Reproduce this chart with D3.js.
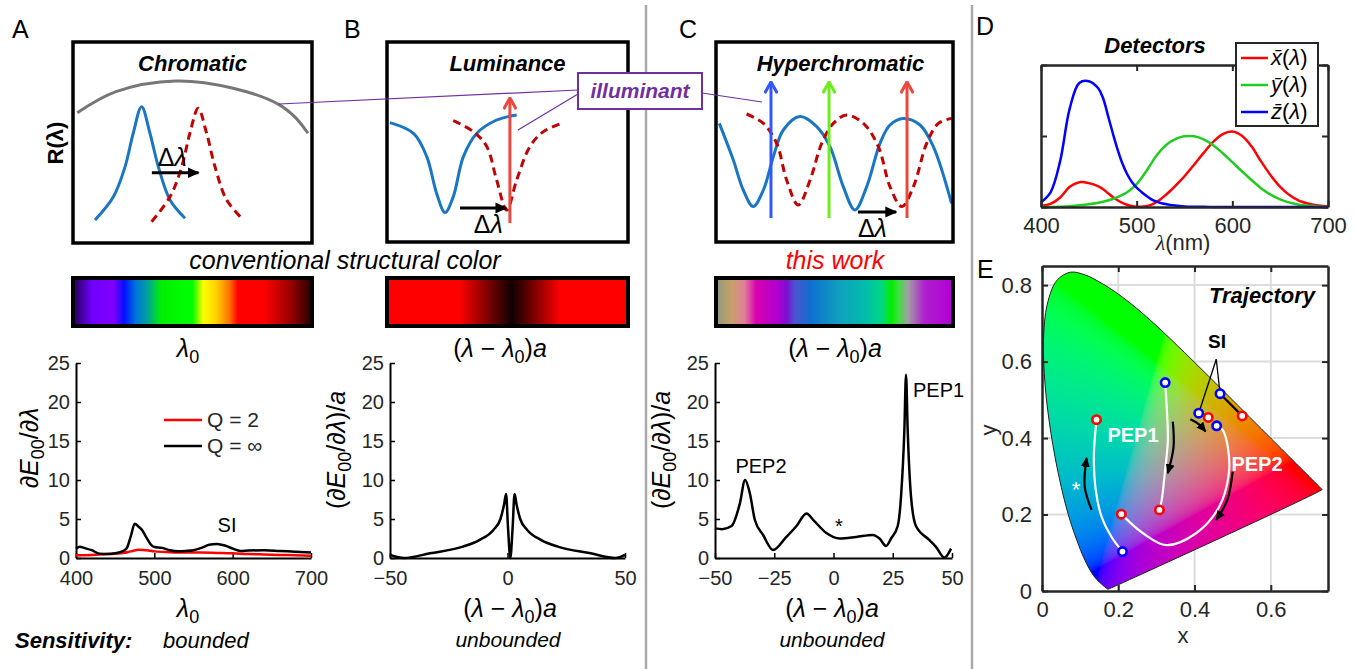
<!DOCTYPE html>
<html>
<head>
<meta charset="utf-8">
<script src="https://cdn.jsdelivr.net/npm/d3@7"></script>
<style>
  body { margin: 0; background: #fff; }
  svg text { font-family: "Liberation Sans", Arial, sans-serif; }
</style>
</head>
<body>
<svg id="fig" width="1355" height="669"></svg>
<script>
// ---------- data ----------
// CIE 1931 2deg colour matching functions (panel D and spectral locus in E)
var cmfWl = [380,390,400,410,420,430,440,450,460,465,470,475,480,485,490,495,500,505,510,515,520,525,530,535,540,545,550,560,570,580,590,600,610,620,630,640,650,660,670,680,690,700];
var cmfX = [0.001368,0.004243,0.01431,0.04351,0.13438,0.2839,0.34828,0.3362,0.2908,0.2511,0.19536,0.1421,0.09564,0.05795,0.03201,0.0147,0.0049,0.0024,0.0093,0.0291,0.06327,0.1096,0.1655,0.22575,0.2904,0.3597,0.43345,0.5945,0.7621,0.9163,1.0263,1.0622,1.0026,0.85445,0.6424,0.4479,0.2835,0.1649,0.0874,0.04677,0.0227,0.011359];
var cmfY = [0.000039,0.00012,0.000396,0.00121,0.004,0.0116,0.023,0.038,0.06,0.0739,0.09098,0.1126,0.13902,0.1693,0.20802,0.2586,0.323,0.4073,0.503,0.6082,0.71,0.7932,0.862,0.91485,0.954,0.9802,0.99495,0.995,0.952,0.87,0.757,0.631,0.503,0.381,0.265,0.175,0.107,0.061,0.032,0.017,0.00821,0.004102];
var cmfZ = [0.00645,0.02005,0.06785,0.2074,0.6456,1.3856,1.74706,1.77211,1.6692,1.5281,1.28764,1.0419,0.81295,0.6162,0.46518,0.3533,0.272,0.2123,0.1582,0.1117,0.07825,0.05725,0.04216,0.02984,0.0203,0.0134,0.00875,0.0039,0.0021,0.00165,0.0011,0.0008,0.00034,0.00019,0.00005,0.00002,0,0,0,0,0,0];

// schematic reflectance curves, [position, reflectance] in box units (0-100)
var chromIllum = [[1.8,64.8],[18,75.3],[43,80.6],[67,77],[86,69],[93,62.5],[98.3,54.6]];
var chromBlue = [[9.2,11.4],[16.9,23],[21.8,38],[25.2,54.6],[28.7,67.8],[32.2,54.6],[35.7,38],[40.6,21.4],[46.9,12.3]];
var chromRed = [[32.9,10.6],[40.6,23],[45.5,38],[48.9,54.6],[52.4,67],[55.9,54.6],[59.4,38],[64.3,21.4],[71,11.8]];
var lumBlue = [[1.2,59.7],[11,54.3],[16.5,42.7],[20.6,24.3],[24.1,14.7],[27.5,22.7],[31.7,42.7],[37.2,54.3],[45.5,61],[53.8,63.5]];
var lumRed = [[27.5,60.7],[35.8,55.2],[41.4,47.7],[45.5,31],[49.7,16],[53.8,31],[59.3,47.7],[64.9,55.2],[72.5,59.3]];
var hypBlue = [[1.4,59.3],[7.3,41],[11.5,26],[15.7,17.7],[20,26],[24.2,42.7],[28.4,56],[35.4,62.7],[42.5,57.7],[48.1,47.7],[53.7,27.7],[58.6,16],[63.6,27.7],[69.2,49.3],[73.4,58.5],[79,61.8],[86.1,58.5],[91.7,47.7],[99.4,19.3]];
var hypRed = [[12.9,64],[20,59.3],[25.6,49.3],[29.8,31],[34.7,18.5],[39.7,31],[44.6,49.3],[49.5,59.3],[55.1,63.5],[62.2,59.3],[68.5,47.7],[73.4,27.7],[78.4,17.7],[83.3,27.7],[88.9,49.3],[93.8,59.3],[99.4,61.8]];
var lumLaser = [51];
var hypLasers = [23.2, 47.7, 80.6];
var hypLaserColors = ["#3158ff", "#6fec1c", "#ea4a3d"];

// colour bars
var specStops = [[0,"#200050"],[0.08,"#7000ff"],[0.17,"#8000ff"],[0.215,"#0010ff"],[0.26,"#0070e0"],[0.31,"#00a0a0"],[0.37,"#00f000"],[0.5,"#00ff00"],[0.545,"#ffff00"],[0.6,"#ffd000"],[0.655,"#ff7000"],[0.69,"#ff0000"],[0.8,"#ff0000"],[0.92,"#900000"],[1,"#200000"]];
var lumStops = [[0,"#ff0000"],[0.3,"#ff0000"],[0.52,"#100000"],[0.72,"#ff0000"],[1,"#ff0000"]];
var hypStops = [[0,"#8a9a80"],[0.064,"#c8a068"],[0.12,"#e08098"],[0.17,"#d800b0"],[0.26,"#b000d0"],[0.3,"#7a10d0"],[0.33,"#5050d0"],[0.4,"#1070d0"],[0.52,"#10a0c0"],[0.64,"#00c0a8"],[0.7,"#00d880"],[0.74,"#00ee00"],[0.77,"#40e040"],[0.81,"#a0a0a0"],[0.88,"#b020d0"],[1,"#b000d0"]];

// sensitivity curves
var lam0 = [400,405,410,420,430,440,450,460,465,470,475,480,485,490,495,500,510,520,530,540,550,560,570,580,590,600,610,620,640,660,680,700];
var sensInf = [1.2,1.45,1.3,1.0,0.55,0.5,0.6,0.9,1.3,2.8,4.4,4.0,3.5,2.6,1.8,1.4,1.3,1.0,0.85,0.9,1.0,1.3,1.7,1.8,1.6,1.2,0.9,0.95,1.0,0.9,0.8,0.7];
var lamQ2 = [400,420,440,460,470,480,490,500,520,540,560,580,600,620,640,660,680,700];
var sensQ2 = [0.35,0.4,0.5,0.65,0.85,1.05,1.0,0.85,0.75,0.7,0.7,0.65,0.6,0.5,0.45,0.4,0.35,0.3];
var lumDx = [-50,-44,-33,-19,-12,-6,-3,-1.5,-0.6,0.2,1.2,2.2,3.0,3.9,5.4,8.4,14.4,21.4,35.4,46,50];
var lumSens = [0.4,0,0.6,1.45,2.3,3.6,5.0,6.8,8.2,4,0,4,8.2,6.8,5.0,3.6,2.3,1.45,0.6,0,0.4];
var hypDx = [-50,-47,-43,-39.5,-37.3,-35.3,-33.2,-29.7,-25.5,-19.9,-15.6,-11.4,-8.6,-3,2.6,9.6,16.6,19.4,22.2,24.3,27.1,28.5,29.9,30.6,31.3,32.7,34.8,40.5,43.3,46.8,49.6];
var hypSens = [3.8,3.7,4.1,7.0,10.0,8.3,4.9,2.95,1.03,2.7,4.1,5.7,4.9,3.2,2.5,2.7,2.95,2.5,1.54,2.5,4.1,7.9,16.4,23.5,16.4,7.9,4.1,2.3,1.4,0.05,1.2];

// chromaticity trajectories (x, y)
var trajStar = [[0.143,0.448],[0.136,0.352],[0.141,0.264],[0.156,0.195],[0.182,0.142],[0.211,0.103]];
var trajPep1 = [[0.323,0.545],[0.327,0.482],[0.330,0.395],[0.322,0.308],[0.314,0.238],[0.308,0.212]];
var trajPep2 = [[0.208,0.201],[0.265,0.151],[0.326,0.120],[0.404,0.151],[0.465,0.221],[0.490,0.308],[0.487,0.378],[0.474,0.421],[0.458,0.432]];
var trajSi1 = [[0.411,0.465],[0.436,0.454]];
var trajSi2 = [[0.467,0.516],[0.525,0.458]];
var arrStar = [[0.130,0.212],[0.112,0.273],[0.117,0.348]];
var arrPep1 = [[0.343,0.443],[0.345,0.377],[0.330,0.308]];
var arrSi = [[0.389,0.449],[0.410,0.437],[0.429,0.417]];
var arrPep2 = [[0.500,0.312],[0.486,0.238],[0.457,0.186]];
var siLabel = [0.457, 0.627];

// ---------- drawing ----------
var svg = d3.select("#fig");
svg.append("rect").attr("width", 1355).attr("height", 669).attr("fill", "#fff");
var defs = svg.append("defs");
var INK = "#262626";

function head(id, color, open, size) {
  var m = defs.append("marker").attr("id", id)
    .attr("viewBox", "0 -5 10 10").attr("refX", 9).attr("refY", 0)
    .attr("markerWidth", size).attr("markerHeight", size)
    .attr("markerUnits", "userSpaceOnUse").attr("orient", "auto");
  if (open) m.append("path").attr("d", "M1,-4.5L9,0L1,4.5").attr("fill", "none")
    .attr("stroke", color).attr("stroke-width", 2.2);
  else m.append("path").attr("d", "M0,-4.5L10,0L0,4.5Z").attr("fill", color);
}
head("hk", "#000", false, 12);
head("hk2", "#000", false, 10);
hypLaserColors.forEach(function(c, i) { head("hl" + i, c, true, 14); });

function gradient(id, stops) {
  var g = defs.append("linearGradient").attr("id", id);
  stops.forEach(function(s) { g.append("stop").attr("offset", s[0]).attr("stop-color", s[1]); });
}
gradient("gSpec", specStops);
gradient("gLum", lumStops);
gradient("gHyp", hypStops);

// math text with italic / subscript parts: 0 upright, 1 italic, 2 subscript
function math(t, parts, size) {
  var inSub = false;
  parts.forEach(function(p) {
    var ts = t.append("tspan").text(p[0]);
    if (p[1] === 1) ts.attr("font-style", "italic");
    if (p[1] === 2) { ts.attr("font-size", size * 0.72).attr("dy", size * 0.22); inSub = true; }
    else if (inSub) { ts.attr("dy", -size * 0.22); inSub = false; }
  });
}
function mathText(x, y, parts, size, rot) {
  var t = svg.append("text").attr("font-family", "'Liberation Serif', serif")
    .attr("font-size", size).attr("fill", "#000").attr("text-anchor", "middle");
  if (rot) t.attr("transform", "translate(" + x + "," + y + ") rotate(-90)");
  else t.attr("x", x).attr("y", y);
  math(t, parts, size);
  return t;
}
function label(x, y, txt, size, opts) {
  opts = opts || {};
  return svg.append("text").attr("x", x).attr("y", y).text(txt)
    .attr("font-size", size).attr("fill", opts.fill || "#000")
    .attr("font-weight", opts.bold ? "bold" : null)
    .attr("font-style", opts.italic ? "italic" : null)
    .attr("font-family", opts.family || null)
    .attr("text-anchor", opts.anchor || "start");
}

// separators
[646, 972].forEach(function(x) {
  svg.append("line").attr("x1", x).attr("x2", x).attr("y1", 5).attr("y2", 669)
    .attr("stroke", "#aaa").attr("stroke-width", 2.5);
});

// panel letters
label(12, 38, "A", 25);
label(344, 38, "B", 25);
label(679, 38, "C", 25);
label(976, 35, "D", 25);
label(977, 278, "E", 25);

// schematic boxes
var curveLine = function(sx, sy) {
  return d3.line().x(function(d) { return sx(d[0]); }).y(function(d) { return sy(d[1]); })
    .curve(d3.curveCatmullRom.alpha(0.5));
};
function schematic(b, title) {
  var sx = d3.scaleLinear().domain([0, 100]).range([b[0], b[2]]);
  var sy = d3.scaleLinear().domain([0, 100]).range([b[3], b[1]]);
  var g = svg.append("g");
  g.append("rect").attr("x", b[0]).attr("y", b[1]).attr("width", b[2] - b[0]).attr("height", b[3] - b[1])
    .attr("fill", "#fff");
  g.append("text").attr("x", (b[0] + b[2]) / 2 + (title == "Hyperchromatic" ? 6 : 0)).attr("y", 71)
    .attr("text-anchor", "middle").attr("font-size", 22).attr("font-weight", "bold").attr("font-style", "italic")
    .text(title);
  return { sx: sx, sy: sy, g: g, line: curveLine(sx, sy), b: b };
}
function frame(s) {
  var b = s.b;
  svg.append("rect").attr("x", b[0]).attr("y", b[1]).attr("width", b[2] - b[0]).attr("height", b[3] - b[1])
    .attr("fill", "none").attr("stroke", "#000").attr("stroke-width", 3.5);
}
function solid(s, data, color) {
  s.g.append("path").datum(data).attr("d", s.line).attr("fill", "none").attr("stroke", color).attr("stroke-width", 3);
}
function dashed(s, data) {
  s.g.append("path").datum(data).attr("d", s.line).attr("fill", "none").attr("stroke", "#c00000")
    .attr("stroke-width", 3).attr("stroke-dasharray", "8,5");
}
function shiftArrow(s, u0, u1, v, tu, tv) {
  s.g.append("line").attr("x1", s.sx(u0)).attr("x2", s.sx(u1)).attr("y1", s.sy(v)).attr("y2", s.sy(v))
    .attr("stroke", "#000").attr("stroke-width", 3).attr("marker-end", "url(#hk)");
  var t = s.g.append("text").attr("x", s.sx(tu)).attr("y", s.sy(tv)).attr("text-anchor", "middle")
    .attr("font-family", "'Liberation Serif', serif").attr("font-size", 25);
  math(t, [["Δ", 0], ["λ", 1]], 25);
}

// A: chromatic
var sA = schematic([73, 42, 312, 243], "Chromatic");
solid(sA, chromIllum, "#777");
solid(sA, chromBlue, "#1a76c2");
dashed(sA, chromRed);
shiftArrow(sA, 33, 52.5, 35, 41.5, 38.5);
frame(sA);

// B: luminance
var sB = schematic([387, 42, 628, 242], "Luminance");
solid(sB, lumBlue, "#1a76c2");
dashed(sB, lumRed);
lumLaser.forEach(function(u) {
  sB.g.append("line").attr("x1", sB.sx(u)).attr("x2", sB.sx(u)).attr("y1", sB.sy(9.5)).attr("y2", sB.sy(72))
    .attr("stroke", hypLaserColors[2]).attr("stroke-width", 3).attr("marker-end", "url(#hl2)");
});
shiftArrow(sB, 30.3, 49.5, 17, 42, 4.5);
frame(sB);

// C: hyperchromatic
var sC = schematic([716, 42, 953, 242], "Hyperchromatic");
solid(sC, hypBlue, "#1a76c2");
dashed(sC, hypRed);
hypLasers.forEach(function(u, i) {
  sC.g.append("line").attr("x1", sC.sx(u)).attr("x2", sC.sx(u)).attr("y1", sC.sy(12)).attr("y2", sC.sy(80))
    .attr("stroke", hypLaserColors[i]).attr("stroke-width", 3).attr("marker-end", "url(#hl" + i + ")");
});
shiftArrow(sC, 59.9, 76, 15, 66, 2.5);
frame(sC);

// R(lambda) label
svg.append("text").attr("transform", "translate(63,143) rotate(-90)").attr("text-anchor", "middle")
  .attr("font-size", 22).attr("font-weight", "bold").text("R(λ)");

// illuminant callout
var purple = "#7030a0";
[[279, 104, 578, 90], [578, 94, 518, 130], [702, 93, 762, 102]].forEach(function(l) {
  svg.append("line").attr("x1", l[0]).attr("y1", l[1]).attr("x2", l[2]).attr("y2", l[3])
    .attr("stroke", purple).attr("stroke-width", 1.2);
});
svg.append("rect").attr("x", 578).attr("y", 73).attr("width", 124).attr("height", 36)
  .attr("fill", "#fff").attr("stroke", purple).attr("stroke-width", 2);
label(640, 98, "illuminant", 21, { bold: true, italic: true, anchor: "middle", fill: purple });

// colour bars
label(345, 269, "conventional structural color", 25, { italic: true, anchor: "middle" });
label(835, 269, "this work", 25, { italic: true, anchor: "middle", fill: "#ff0000" });
[[73, 312, "gSpec"], [387, 628, "gLum"], [716, 953, "gHyp"]].forEach(function(c) {
  svg.append("rect").attr("x", c[0]).attr("y", 278).attr("width", c[1] - c[0]).attr("height", 48)
    .attr("fill", "url(#" + c[2] + ")").attr("stroke", "#000").attr("stroke-width", 4);
});
var shiftParts = [["(", 0], ["λ", 1], [" − ", 0], ["λ", 1], ["0", 2], [")", 0], ["a", 1]];
mathText(188, 357, [["λ", 1], ["0", 2]], 25);
mathText(500, 357, shiftParts, 25);
mathText(835, 357, shiftParts, 25);

// ---------- sensitivity plots ----------
var ySens = d3.scaleLinear().domain([0, 25]).range([558, 363]);
function sensPlot(x, xTicks) {
  var g = svg.append("g");
  var ax = g.append("g").attr("transform", "translate(0,558)")
    .call(d3.axisBottom(x).tickValues(xTicks).tickSizeInner(-5).tickSizeOuter(0).tickPadding(13));
  var ay = g.append("g").attr("transform", "translate(" + x.range()[0] + ",0)")
    .call(d3.axisLeft(ySens).tickValues([0, 5, 10, 15, 20, 25]).tickSizeInner(-5).tickSizeOuter(0).tickPadding(6));
  [ax, ay].forEach(function(a) {
    a.select(".domain").attr("stroke", "#000").attr("stroke-width", 2);
    a.selectAll(".tick line").attr("stroke", "#000").attr("stroke-width", 1.5);
    a.selectAll(".tick text").attr("font-size", 20).attr("fill", INK)
      .attr("font-family", "'Liberation Sans', Arial, sans-serif");
  });
  return g;
}
function sensLine(g, x, xs, ys, color) {
  var line = d3.line().x(function(d, i) { return x(xs[i]); }).y(function(d) { return ySens(d); })
    .curve(d3.curveMonotoneX);
  g.append("path").datum(ys).attr("d", line).attr("fill", "none").attr("stroke", color)
    .attr("stroke-width", 2.5).attr("stroke-linejoin", "round");
}

// A
var xA = d3.scaleLinear().domain([400, 700]).range([76, 311]);
var gA = sensPlot(xA, [400, 500, 600, 700]);
sensLine(gA, xA, lamQ2, sensQ2, "#ff0000");
sensLine(gA, xA, lam0, sensInf, "#000");
[["#ff0000", 420, "Q = 2"], ["#000", 446, "Q = ∞"]].forEach(function(l) {
  gA.append("line").attr("x1", 164).attr("x2", 202).attr("y1", l[1]).attr("y2", l[1])
    .attr("stroke", l[0]).attr("stroke-width", 2.5);
  label(207, l[1] + 7, l[2], 21, { fill: INK });
});
label(227, 532, "SI", 20, { anchor: "middle", family: "'Open Sans', sans-serif" });
mathText(188, 617, [["λ", 1], ["0", 2]], 25);
mathText(38, 448, [["∂", 0], ["E", 1], ["00", 2], ["/∂", 0], ["λ", 1]], 25, true);
label(15, 648, "Sensitivity:", 22, { bold: true, italic: true });
label(163, 648, "bounded", 22, { italic: true });

// B
var xB = d3.scaleLinear().domain([-50, 50]).range([390, 625]);
var gB = sensPlot(xB, [-50, 0, 50]);
sensLine(gB, xB, lumDx, lumSens, "#000");
mathText(510, 617, shiftParts, 25);
mathText(345, 450, [["(∂", 0], ["E", 1], ["00", 2], ["/∂", 0], ["λ", 1], [")/", 0], ["a", 1]], 25, true);
label(508, 647, "unbounded", 21, { italic: true, anchor: "middle" });

// C
var xC = d3.scaleLinear().domain([-50, 50]).range([715, 952]);
var gC = sensPlot(xC, [-50, -25, 0, 25, 50]);
sensLine(gC, xC, hypDx, hypSens, "#000");
mathText(832, 617, shiftParts, 25);
mathText(670, 450, [["(∂", 0], ["E", 1], ["00", 2], ["/∂", 0], ["λ", 1], [")/", 0], ["a", 1]], 25, true);
label(832, 647, "unbounded", 21, { italic: true, anchor: "middle" });
label(761, 473, "PEP2", 20, { anchor: "middle", family: "'Open Sans', sans-serif" });
label(913, 397, "PEP1", 20, { family: "'Open Sans', sans-serif" });
label(839, 533, "*", 20, { anchor: "middle", family: "'Open Sans', sans-serif" });

// ---------- D: detectors ----------
var xD = d3.scaleLinear().domain([400, 700]).range([1041, 1328]);
var yD = d3.scaleLinear().domain([0, 2]).range([207, 65]);
var gD = svg.append("g");
function boxAxes(g, x, y, xt, yt, xfmt, yfmt) {
  var x0 = x.range()[0], x1 = x.range()[1], y0 = y.range()[0], y1 = y.range()[1];
  var axes = [
    [d3.axisBottom(x).tickValues(xt).tickFormat(xfmt), "translate(0," + y0 + ")"],
    [d3.axisTop(x).tickValues(xt).tickFormat(""), "translate(0," + y1 + ")"],
    [d3.axisLeft(y).tickValues(yt).tickFormat(yfmt), "translate(" + x0 + ",0)"],
    [d3.axisRight(y).tickValues(yt).tickFormat(""), "translate(" + x1 + ",0)"]
  ];
  axes.forEach(function(d) {
    var a = g.append("g").attr("transform", d[1]).call(d[0].tickSizeInner(-6).tickSizeOuter(0).tickPadding(10));
    a.select(".domain").attr("stroke", INK).attr("stroke-width", 2.5);
    a.selectAll(".tick line").attr("stroke", INK).attr("stroke-width", 2);
    a.selectAll(".tick text").attr("font-size", 22).attr("fill", INK)
      .attr("font-family", "'Liberation Sans', Arial, sans-serif");
  });
}
var dIdx = cmfWl.map(function(w, i) { return i; }).filter(function(i) { return cmfWl[i] >= 400; });
[[cmfX, "#ff0000"], [cmfY, "#22cc22"], [cmfZ, "#0000ff"]].forEach(function(s) {
  var line = d3.line().x(function(i) { return xD(cmfWl[i]); }).y(function(i) { return yD(s[0][i]); })
    .curve(d3.curveCatmullRom.alpha(0.5));
  gD.append("path").datum(dIdx).attr("d", line).attr("fill", "none").attr("stroke", s[1]).attr("stroke-width", 2.5);
});
boxAxes(gD, xD, yD, [400, 500, 600, 700], [0, 1, 2], d3.format("d"), "");
label(1155, 53, "Detectors", 22, { bold: true, italic: true, anchor: "middle" });
// legend
gD.append("rect").attr("x", 1236).attr("y", 43).attr("width", 82).attr("height", 83)
  .attr("fill", "#fff").attr("stroke", INK).attr("stroke-width", 2);
[["x\u0304", "#ff0000", 58], ["y\u0304", "#22cc22", 85], ["z\u0304", "#0000ff", 112]].forEach(function(l) {
  gD.append("line").attr("x1", 1241).attr("x2", 1268).attr("y1", l[2]).attr("y2", l[2])
    .attr("stroke", l[1]).attr("stroke-width", 2.5);
  var t = gD.append("text").attr("x", 1271).attr("y", l[2] + 7).attr("font-size", 22)
    .attr("font-family", "'Liberation Serif', serif");
  math(t, [[l[0], 1], ["(", 0], ["λ", 1], [")", 0]], 22);
});
var tl = svg.append("text").attr("x", 1183).attr("y", 250).attr("text-anchor", "middle").attr("font-size", 22).attr("fill", INK);
tl.append("tspan").attr("font-family", "'Liberation Serif', serif").attr("font-style", "italic").text("λ");
tl.append("tspan").text("(nm)");

// ---------- E: chromaticity ----------
var xE = d3.scaleLinear().domain([0, 0.75]).range([1042, 1328]);
var yE = d3.scaleLinear().domain([0, 0.85]).range([591, 266]);
var gE = svg.append("g");
// grid
[0.2, 0.4, 0.6].forEach(function(v) {
  gE.append("line").attr("x1", xE(v)).attr("x2", xE(v)).attr("y1", 266).attr("y2", 591)
    .attr("stroke", "#dcdcdc").attr("stroke-width", 2);
});
[0.2, 0.4, 0.6, 0.8].forEach(function(v) {
  gE.append("line").attr("y1", yE(v)).attr("y2", yE(v)).attr("x1", 1042).attr("x2", 1328)
    .attr("stroke", "#dcdcdc").attr("stroke-width", 2);
});
// spectral locus
var locus = cmfWl.map(function(w, i) {
  var s = cmfX[i] + cmfY[i] + cmfZ[i];
  return [cmfX[i] / s, cmfY[i] / s];
});
var locusLine = d3.line().x(function(d) { return xE(d[0]); }).y(function(d) { return yE(d[1]); })
  .curve(d3.curveCatmullRomClosed.alpha(0.5));
defs.append("clipPath").attr("id", "locusClip").append("path").datum(locus).attr("d", locusLine);

// colour fill (xy -> linear sRGB, normalised by channel sum)
var pw = 286, ph = 325;
var cv = document.createElement("canvas");
cv.width = pw; cv.height = ph;
var ctx = cv.getContext("2d");
var img = ctx.createImageData(pw, ph);
function gam(v) { v = Math.min(1, v); return v <= 0.0031308 ? 12.92 * v : 1.055 * Math.pow(v, 1 / 2.4) - 0.055; }
for (var j = 0; j < ph; j++) {
  for (var i = 0; i < pw; i++) {
    var cx = xE.invert(1042 + i + 0.5), cy = yE.invert(266 + j + 0.5);
    var X = cx, Y = cy, Z = 1 - cx - cy;
    var r = Math.max(0, 3.2406 * X - 1.5372 * Y - 0.4986 * Z);
    var g = Math.max(0, -0.9689 * X + 1.8758 * Y + 0.0415 * Z);
    var b = Math.max(0, 0.0557 * X - 0.2040 * Y + 1.0570 * Z);
    var m = Math.max(r, g, b, 1e-6), s = r + g + b;
    var k = 1.08 / Math.max(s / m, 1e-6);
    r = r / m * k; g = g / m * k; b = b / m * k;
    var p = (j * pw + i) * 4;
    img.data[p] = 255 * gam(r);
    img.data[p + 1] = 255 * gam(g);
    img.data[p + 2] = 255 * gam(b);
    img.data[p + 3] = 255;
  }
}
ctx.putImageData(img, 0, 0);
gE.append("image").attr("x", 1042).attr("y", 266).attr("width", pw).attr("height", ph)
  .attr("href", cv.toDataURL()).attr("clip-path", "url(#locusClip)").attr("preserveAspectRatio", "none");
gE.append("path").datum(locus).attr("d", locusLine).attr("fill", "none").attr("stroke", "#222").attr("stroke-width", 1);
boxAxes(gE, xE, yE, [0, 0.2, 0.4, 0.6], [0, 0.2, 0.4, 0.6, 0.8], d3.format("~g"), d3.format("~g"));

// trajectories
var trajLine = d3.line().x(function(d) { return xE(d[0]); }).y(function(d) { return yE(d[1]); })
  .curve(d3.curveCatmullRom.alpha(0.5));
[trajStar, trajPep1, trajPep2].forEach(function(t) {
  gE.append("path").datum(t).attr("d", trajLine).attr("fill", "none").attr("stroke", "#fff").attr("stroke-width", 2.2);
});
[trajSi1, trajSi2].forEach(function(t) {
  gE.append("path").datum(t).attr("d", trajLine).attr("fill", "none").attr("stroke", "#000").attr("stroke-width", 2.2);
});
[arrStar, arrPep1, arrSi, arrPep2].forEach(function(t) {
  gE.append("path").datum(t).attr("d", trajLine).attr("fill", "none").attr("stroke", "#000")
    .attr("stroke-width", 2.2).attr("marker-end", "url(#hk2)");
});
// SI pointer lines
[trajSi1[0], trajSi2[0]].forEach(function(p) {
  gE.append("line").attr("x1", xE(siLabel[0])).attr("y1", yE(siLabel[1]) + 8)
    .attr("x2", xE(p[0])).attr("y2", yE(p[1])).attr("stroke", "#000").attr("stroke-width", 1.3);
});
// end markers
var dots = [[trajStar[0], "#ff0000"], [trajStar[trajStar.length - 1], "#0000ff"],
  [trajPep1[0], "#0000ff"], [trajPep1[trajPep1.length - 1], "#ff0000"],
  [trajPep2[0], "#ff0000"], [trajPep2[trajPep2.length - 1], "#0000ff"],
  [trajSi1[0], "#0000ff"], [trajSi1[1], "#ff0000"], [trajSi2[0], "#0000ff"], [trajSi2[1], "#ff0000"]];
gE.selectAll("circle.dot").data(dots).enter().append("circle").attr("class", "dot")
  .attr("cx", function(d) { return xE(d[0][0]); }).attr("cy", function(d) { return yE(d[0][1]); })
  .attr("r", 4.2).attr("fill", "#fff").attr("stroke", function(d) { return d[1]; }).attr("stroke-width", 2.6);

label(1217, 348, "SI", 19, { bold: true, anchor: "middle", family: "'Open Sans', sans-serif" });
label(1133, 442, "PEP1", 20, { bold: true, anchor: "middle", fill: "#fff", family: "'Open Sans', sans-serif" });
label(1257, 471, "PEP2", 20, { bold: true, anchor: "middle", fill: "#fff", family: "'Open Sans', sans-serif" });
label(1076, 497, "*", 22, { anchor: "middle", fill: "#fff", family: "'Open Sans', sans-serif" });
label(1262, 303, "Trajectory", 22, { bold: true, italic: true, anchor: "middle" });
label(1183, 643, "x", 22, { anchor: "middle", fill: INK });
svg.append("text").attr("transform", "translate(996,430) rotate(-90)").attr("text-anchor", "middle")
  .attr("font-size", 22).attr("fill", INK).text("y");
</script>
</body>
</html>
